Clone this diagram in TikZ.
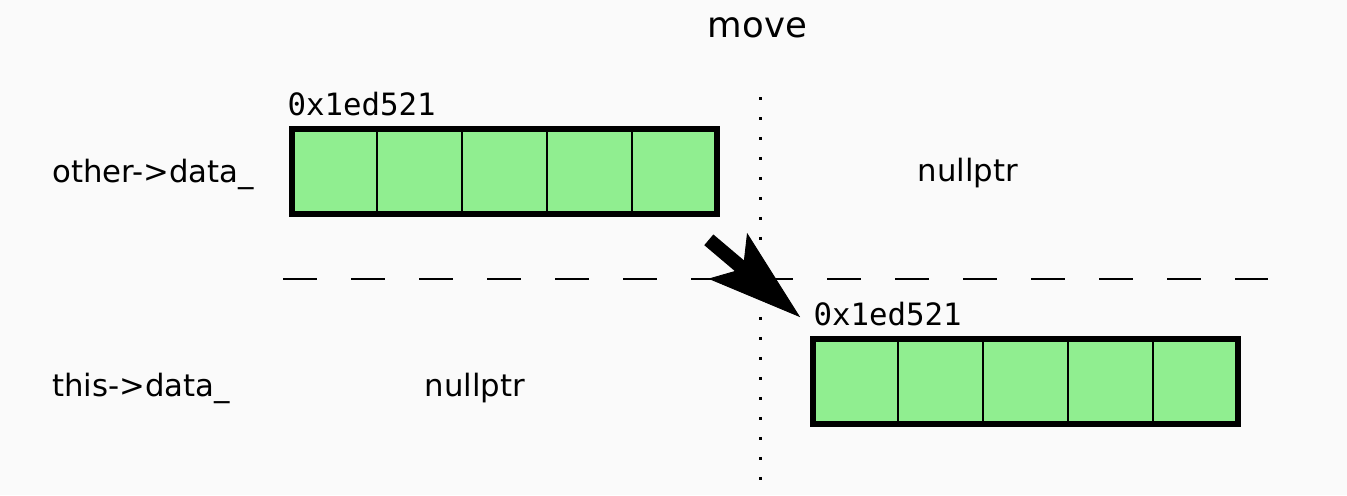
\documentclass[tikz,border=0pt]{standalone}
\usepackage{fontspec}
\setmainfont{DejaVu Sans}
\setmonofont{DejaVu Sans Mono}
\usetikzlibrary{positioning,arrows.meta,fit,calc}
\definecolor{cellgreen}{HTML}{90EE90}
\definecolor{bggray}{HTML}{FAFAFA}

\begin{document}
\begin{tikzpicture}[
    font=\fontsize{17.5}{21}\selectfont,
    cell/.style={draw, fill=cellgreen, line width=1.4pt, minimum size=1.7cm, inner sep=0pt, outer sep=0pt, anchor=north west},
    arraybox/.style={draw, line width=3.2pt, inner sep=0pt},
    addr/.style={anchor=base west, inner sep=0pt, font=\ttfamily\fontsize{17.5}{21}\selectfont},
    lbl/.style={anchor=base west, inner sep=0pt},
]
% Canvas
\fill[bggray] (0,0) rectangle (26.94,-9.9);
\useasboundingbox (0,0) rectangle (26.94,-9.9);

% Cell parameters
\def\cellw{1.7}
\def\topx{5.84}
\def\botx{16.26}

% Title
\node[anchor=base, inner sep=0pt, font=\fontsize{20.2}{24}\selectfont] (title) at (15.15,-0.74) {move};

% Row labels
\node[lbl] (otherlbl) at (1.04,-3.64) {other->data\_};
\node[lbl] (thislbl) at (1.04,-7.92) {this->data\_};

% Top array: other->data_
\foreach \c in {0,...,4} {
    \node[cell] (t\c) at (\topx+\c*\cellw, -2.58) {};
}
\node[arraybox, fit=(t0)(t4)] (toparr) {};
\node[addr] (topaddr) at ($(toparr.north west)+(-0.04,0.22)$) {0x1ed521};

% Bottom array: this->data_
\foreach \c in {0,...,4} {
    \node[cell] (b\c) at (\botx+\c*\cellw, -6.78) {};
}
\node[arraybox, fit=(b0)(b4)] (botarr) {};
\node[addr] (botaddr) at ($(botarr.north west)+(0.06,0.22)$) {0x1ed521};

% nullptr placeholders
\node[anchor=base, inner sep=0pt] (topnull) at (19.36,-3.62) {nullptr};
\node[anchor=base, inner sep=0pt] (botnull) at (9.5,-7.92) {nullptr};

% Before / after divider
\draw[line width=1.7pt, dash pattern=on 0.68cm off 0.68cm] (5.66,-5.58) -- (25.36,-5.58);
\draw[line width=1.7pt, dash pattern=on 1.7pt off 9.68pt] (15.2,-1.94) -- (15.2,-9.6);

% Move arrow
\coordinate (mvfrom) at ($(toparr.south east)+(-0.22,-0.46)$);
\coordinate (mvto) at ($(botarr.north west)+(-0.2,0.38)$);
\draw[line width=8pt, -{Stealth[length=1.9cm, width=1.2cm, inset=0.4cm, line width=0.5pt]}] (mvfrom) -- (mvto);

\end{tikzpicture}
\end{document}
